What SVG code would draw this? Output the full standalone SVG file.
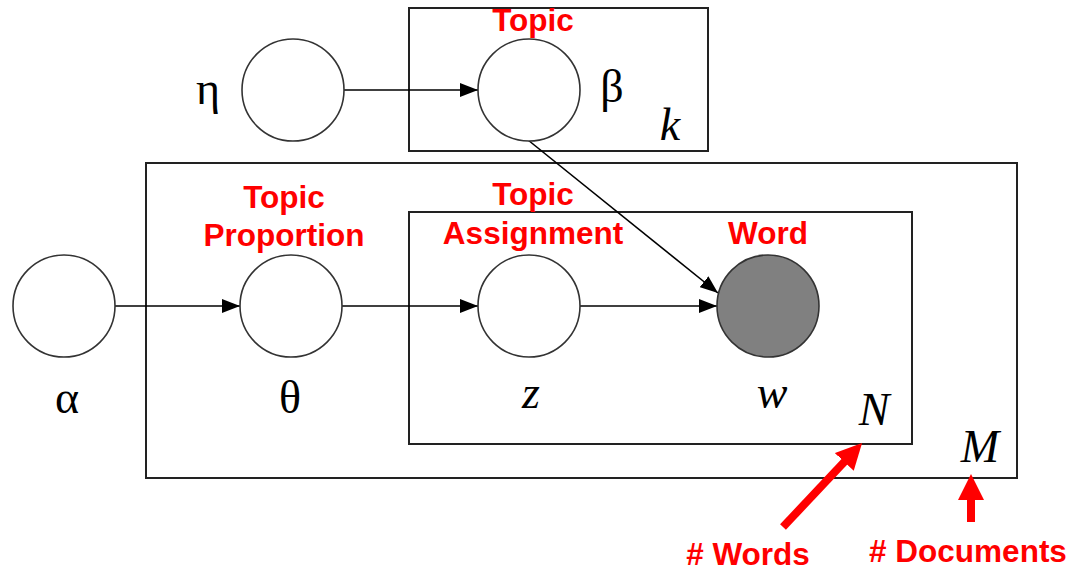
<svg xmlns="http://www.w3.org/2000/svg" width="1072" height="570" viewBox="0 0 1072 570">
<style>
.plate{fill:none;stroke:#222;stroke-width:2}
.node{fill:#fff;stroke:#333;stroke-width:1.6}
.obs{fill:#808080;stroke:#333;stroke-width:1.6}
.edge{stroke:#000;stroke-width:1.6;fill:none;marker-end:url(#ah)}
.math{font-family:"Liberation Serif",serif;font-size:46px;fill:#000;text-anchor:middle}
.it{font-style:italic}
.red{font-family:"Liberation Sans",Arial,sans-serif;font-weight:bold;font-size:31.5px;fill:#f00;text-anchor:middle}
.redarrow{stroke:#f00;stroke-width:8;fill:none;marker-end:url(#rh)}
</style>
<defs>
<marker id="ah" viewBox="0 0 18 14" refX="18" refY="7" markerWidth="18" markerHeight="14" markerUnits="userSpaceOnUse" orient="auto">
<path d="M0,0 L18,7 L0,14 Z" fill="#000"/>
</marker>
<marker id="rh" viewBox="0 0 26 26" refX="4" refY="13" markerWidth="26" markerHeight="26" markerUnits="userSpaceOnUse" orient="auto">
<path d="M0,0 L26,13 L0,26 Z" fill="#f00"/>
</marker>
</defs>
<rect width="1072" height="570" fill="#fff"/>
<g id="plate-k"><rect class="plate" x="409" y="8" width="299" height="143"/><text class="math it" x="670" y="140" font-size="40">k</text></g>
<g id="plate-M"><rect class="plate" x="146" y="163" width="871" height="315"/><text class="math it" x="980" y="462">M</text></g>
<g id="plate-N"><rect class="plate" x="409" y="212" width="503" height="232"/><text class="math it" x="874" y="425">N</text></g>
<g id="connectors">
<line class="edge" x1="344" y1="90" x2="478" y2="90"/>
<line class="edge" x1="115" y1="306" x2="240" y2="306"/>
<line class="edge" x1="342" y1="306" x2="478" y2="306"/>
<line class="edge" x1="580" y1="306" x2="717" y2="306"/>
<line class="edge" x1="528" y1="140" x2="718" y2="293"/>
</g>
<g id="node-eta"><circle class="node" cx="293" cy="90" r="51"/><text class="math" x="208" y="104">η</text></g>
<g id="node-beta"><circle class="node" cx="529" cy="90" r="51"/><text class="math" x="612" y="102">β</text><text class="red" x="533" y="31">Topic</text></g>
<g id="node-alpha"><circle class="node" cx="64" cy="306" r="51"/><text class="math" x="67" y="413" font-size="52">α</text></g>
<g id="node-theta"><circle class="node" cx="291" cy="306" r="51"/><text class="math" x="290" y="413">θ</text><text class="red" x="284" y="208">Topic</text><text class="red" x="284" y="246">Proportion</text></g>
<g id="node-z"><circle class="node" cx="529" cy="306" r="51"/><text class="math it" x="531" y="408">z</text><text class="red" x="533" y="205">Topic</text><text class="red" x="533" y="244">Assignment</text></g>
<g id="node-w"><circle class="obs" cx="768" cy="306" r="51"/><text class="math it" x="772" y="408">w</text><text class="red" x="768" y="244">Word</text></g>
<g id="annotations">
<line class="redarrow" x1="783" y1="527" x2="847" y2="459"/>
<line class="redarrow" x1="971" y1="522" x2="971" y2="496"/>
<text class="red" x="748" y="565"># Words</text>
<text class="red" x="968" y="562"># Documents</text>
</g>
</svg>
